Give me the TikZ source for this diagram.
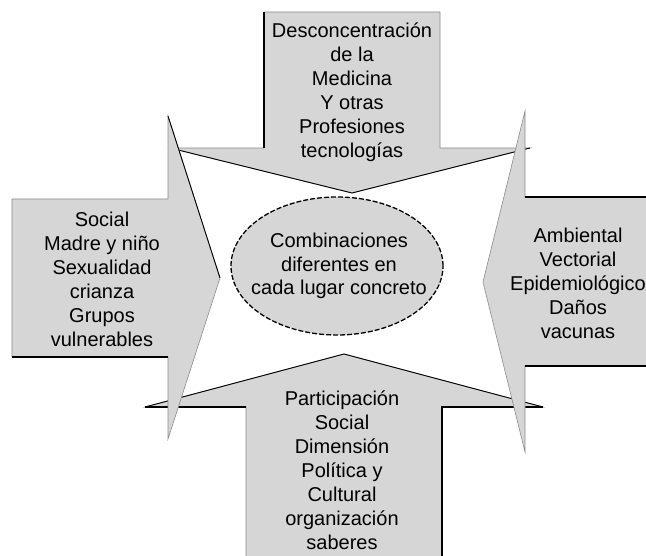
\documentclass[tikz,border=0pt]{standalone}
\usepackage{fontspec}
\setmainfont{Liberation Sans}
\usetikzlibrary{shapes.geometric}
\definecolor{arrowgray}{RGB}{214,214,214}
\definecolor{edgegray}{RGB}{140,140,140}

\begin{document}
\begin{tikzpicture}[x=1pt, y=-1pt,
                    arrowbody/.style={fill=arrowgray, draw=edgegray, line width=0.6pt},
                    shadowline/.style={draw=black, line width=2.2pt},
                    headline/.style={draw=black, line width=0.9pt},
                    labelnode/.style={align=center, font=\fontsize{20}{24}\selectfont, inner sep=0pt},
                    blobnode/.style={ellipse, draw=black, fill=arrowgray, line width=1.3pt, dash pattern=on 5pt off 2pt, minimum width=212pt, minimum height=138pt, inner sep=0pt},
                ]
                    \useasboundingbox (0,0) rectangle (646,556);

                    %Arrows
                    \draw[arrowbody] (264,12) -- (440,12) -- (440,148) -- (530,148) -- (352,193) -- (170,148) -- (264,148) -- cycle;
                    \draw[shadowline] (264,12) -- (264,148);
                    \draw[headline] (170,148) -- (352,193) -- (530,148);

                    \draw[arrowbody] (246,560) -- (246,407) -- (145,407) -- (344,354) -- (543,407) -- (442,407) -- (442,560) -- cycle;
                    \draw[shadowline] (442,560) -- (442,407) -- (543,407);
                    \draw[shadowline] (145,407) -- (246,407);
                    \draw[headline] (145,407) -- (344,354) -- (543,407);

                    \draw[arrowbody] (12,199) -- (168,199) -- (168,116) -- (220,278) -- (168,439) -- (168,357) -- (12,357) -- cycle;
                    \draw[shadowline] (12,357) -- (168,357);
                    \draw[headline] (168,116) -- (220,278);

                    \draw[arrowbody] (650,197) -- (525,197) -- (525,111) -- (483,282) -- (525,452) -- (525,366) -- (650,366) -- cycle;
                    \draw[shadowline] (525,197) -- (650,197);
                    \draw[shadowline] (525,366) -- (650,366);

                    %Nodes
                    \node[blobnode] (blob) at (337,266) {};
                    \node[labelnode, font=\fontsize{20}{23.5}\selectfont] (blobtext) at (339,266) {Combinaciones\\diferentes en\\cada lugar concreto};
                    \node[labelnode] (medicina) at (352,92) {Desconcentración\\de la\\Medicina\\Y otras\\Profesiones\\tecnologías};
                    \node[labelnode] (social) at (102,279) {Social\\Madre y niño\\Sexualidad\\crianza\\Grupos\\vulnerables};
                    \node[labelnode] (ambiental) at (578,283) {Ambiental\\Vectorial\\Epidemiológico\\Daños\\vacunas};
                    \node[labelnode] (participacion) at (342,470) {Participación\\Social\\Dimensión\\Política y\\Cultural\\organización\\saberes};
                \end{tikzpicture}
\end{document}
